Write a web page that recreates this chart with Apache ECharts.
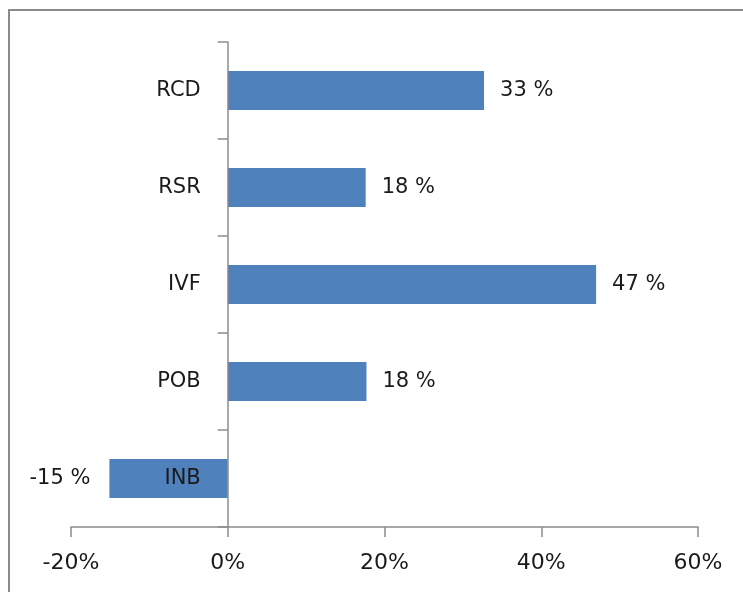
<!DOCTYPE html>
<html>
<head>
<meta charset="utf-8">
<script src="https://cdn.jsdelivr.net/npm/echarts@6/dist/echarts.min.js"></script>
<style>
html,body{margin:0;padding:0;background:#fff;}
#chart{width:743px;height:592px;}
</style>
</head>
<body>
<div id="chart"></div>
<script>
var categories = ['INB', 'POB', 'IVF', 'RSR', 'RCD'];
var values = [-15.1, 17.7, 47.0, 17.6, 32.7];
var xTicks = [-20, 0, 20, 40, 60];

var FONT = 'DejaVu Sans';
var GRID_LEFT = 71, GRID_RIGHT = 45;
var plotW = 743 - GRID_LEFT - GRID_RIGHT;
var zeroOffset = plotW * (0 - xTicks[0]) / (xTicks[xTicks.length - 1] - xTicks[0]);

var chart = echarts.init(document.getElementById('chart'));
chart.setOption({
  animation: false,
  backgroundColor: '#ffffff',
  graphic: [{
    type: 'rect',
    shape: { x: 9, y: 10, width: 800, height: 700 },
    style: { fill: 'none', stroke: '#8a8a8a', lineWidth: 2 },
    silent: true
  }],
  grid: { left: GRID_LEFT, right: GRID_RIGHT, top: 42, bottom: 65, containLabel: false, outerBoundsMode: 'none' },
  xAxis: {
    type: 'value',
    min: xTicks[0],
    max: xTicks[xTicks.length - 1],
    interval: 20,
    axisLine: { show: true, lineStyle: { color: '#8c8c8c', width: 1.5 } },
    axisTick: { show: true, length: 10, lineStyle: { color: '#8c8c8c', width: 1.5 } },
    splitLine: { show: false },
    axisLabel: {
      formatter: function (v) { return v + '%'; },
      fontFamily: FONT, fontSize: 22, color: '#1a1a1a', margin: 25
    }
  },
  yAxis: {
    type: 'category',
    data: categories,
    z: 10,
    position: 'left',
    offset: -zeroOffset,
    axisLine: { show: true, onZero: false, lineStyle: { color: '#8c8c8c', width: 1.5 } },
    axisTick: { show: true, length: 10, lineStyle: { color: '#8c8c8c', width: 1.5 } },
    axisLabel: { fontFamily: FONT, fontSize: 21, color: '#1a1a1a', margin: 27 }
  },
  series: [{
    type: 'bar',
    barCategoryGap: '60%',
    itemStyle: { color: '#4f81bd' },
    data: values.map(function (v) {
      return {
        value: v,
        label: { position: v < 0 ? 'left' : 'right', distance: v < 0 ? 19 : 16 }
      };
    }),
    label: {
      show: true,
      fontFamily: FONT, fontSize: 21, color: '#1a1a1a',
      formatter: function (p) { return Math.round(p.value) + ' %'; }
    }
  }]
});
</script>
</body>
</html>
